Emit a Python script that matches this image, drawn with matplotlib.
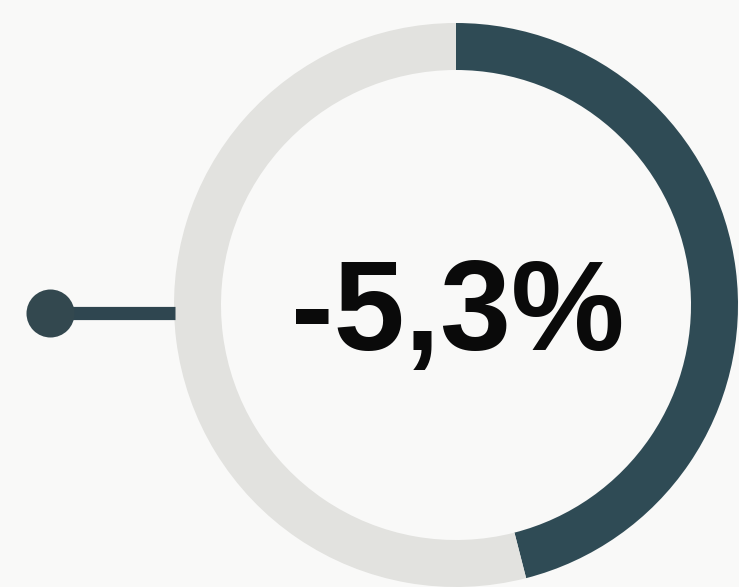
import matplotlib
matplotlib.use("Agg")
import matplotlib.pyplot as plt

# data
segments = ["Rückgang", "Rest"]
shares = [46.0, 54.0]
label = "-5,3%"

W, H = 739, 587
fig = plt.figure(figsize=(W / 100, H / 100), dpi=100)
fig.patch.set_facecolor("#f9f9f8")
ax = fig.add_axes([0, 0, 1, 1])
ax.set_xlim(0, W)
ax.set_ylim(0, H)
ax.set_aspect("equal")
ax.axis("off")

cx, cy, R, ring = 456, 282, 282, 47
ax.pie(shares, colors=["#2f4b55", "#e2e2df"], startangle=90, counterclock=False,
       center=(cx, cy), radius=R, frame=True,
       wedgeprops=dict(width=ring, linewidth=0))
ax.set_xlim(0, W)
ax.set_ylim(0, H)
ax.axis("off")

# connector with dot
ax.plot([49, cx - R + 1], [H - 313, H - 313], color="#2f4650", lw=9.5,
        solid_capstyle="butt", zorder=3)
ax.scatter([49.5], [H - 312.5], s=(48 * 0.72) ** 2, color="#33484f", zorder=4,
           linewidths=0)

ax.text(457.5, H - 350, label, ha="center", va="baseline",
        fontsize=92, fontweight="bold", family=["Liberation Sans", "DejaVu Sans"],
        color="#0a0a0a")

fig.savefig("out.png", dpi=100, facecolor=fig.get_facecolor())
